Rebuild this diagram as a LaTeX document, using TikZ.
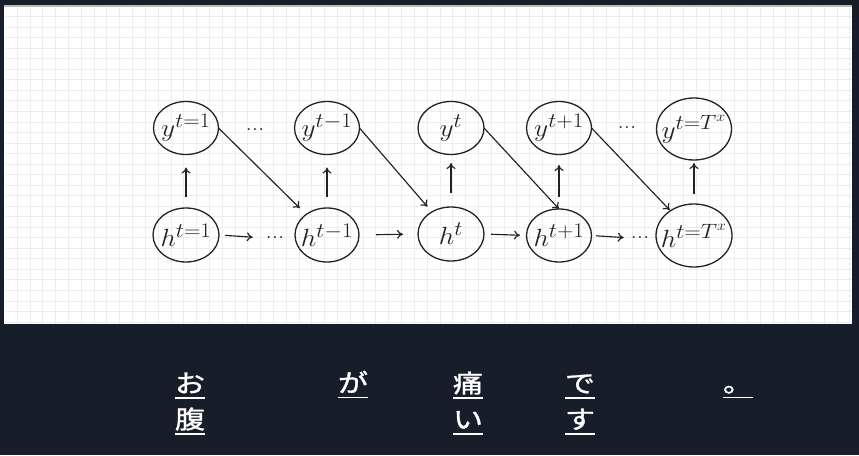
\documentclass[tikz,border=0pt]{standalone}
\usepackage{fontspec}
\usepackage{graphicx}
\usepackage{calc}
\usetikzlibrary{shapes.geometric,arrows.meta}
\newfontfamily\jpfont[FakeBold=1.2]{Noto Sans CJK JP}
\definecolor{bgdark}{RGB}{24,30,41}
\definecolor{gridc}{RGB}{237,237,237}
\definecolor{inkc}{RGB}{34,34,34}
\newcommand\xw[1]{\scalebox{1.1}[1]{#1}}
\newcommand\jw[1]{\scalebox{1.2}[1]{#1}}
\newcommand\ctr[1]{\makebox[0pt]{\raisebox{-0.5\height+0.5\depth}[0pt][0pt]{#1}}}
\begin{document}
\begin{tikzpicture}[x=1pt,y=-1pt,
  st/.style={ellipse, draw=inkc, line width=1.3pt, inner sep=0pt, outer sep=0pt,
    minimum width=65pt, minimum height=53pt, text=inkc, font=\fontsize{28.5}{32}\selectfont},
  bigst/.style={st, minimum width=76pt, minimum height=63pt},
  dts/.style={inner sep=0pt, outer sep=0pt, text=inkc, font=\fontsize{23}{26}\selectfont},
  arr/.style={draw=inkc, line width=1.15pt, -{To[length=6pt,width=9pt]}},
  jp/.style={inner sep=0pt, outer sep=0pt, anchor=base, text=white, font=\jpfont\fontsize{25}{30}\selectfont},
  ul/.style={draw=white, line width=1.7pt}]
\useasboundingbox (0,0) rectangle (859,455);
% background and panel
\fill[bgdark] (0,0) rectangle (859,455);
\fill[white] (4,6) rectangle (852,324);
\foreach \k in {0,...,65} \draw[gridc, line width=1pt] ({17.3+\k*12.81},6.5) -- ({17.3+\k*12.81},323.5);
\foreach \k in {0,...,29} \draw[gridc, line width=1pt] (4.5,{16.7+\k*10.53}) -- (851.5,{16.7+\k*10.53});
\draw[gray!55, line width=1.6pt] (4,6) -- (852,6);
% nodes
\node[st] (y1) at (186,128) {\ctr{\xw{$y^{t=1}$}}};
\node[st, minimum width=66pt, minimum height=54pt] (h1) at (186,235) {\ctr{\xw{$h^{t=1}$}}};
\node[st] (ym) at (327,128) {\ctr{\xw{$y^{t-1}$}}};
\node[st, minimum width=64pt, minimum height=54pt] (hm) at (327,235) {\ctr{\xw{$h^{t-1}$}}};
\node[st, minimum width=66pt] (yt) at (451,128) {\ctr{\xw{$y^{t}$}}};
\node[st, minimum width=66pt, minimum height=54pt] (ht) at (451,234) {\ctr{\xw{$h^{t}$}}};
\node[st] (yp) at (559,128) {\ctr{\xw{$y^{t+1}$}}};
\node[st] (hp) at (559,235.5) {\ctr{\xw{$h^{t+1}$}}};
\node[bigst, minimum width=75pt, minimum height=62pt] (yT) at (694,129) {\ctr{\xw{$y^{t=T^x}$}}};
\node[bigst] (hT) at (694,235.5) {\ctr{\xw{$h^{t=T^x}$}}};
% dots
\node[dts] (d1) at (255,130) {\xw{...}};
\node[dts] (d2) at (275,238) {\xw{...}};
\node[dts] (d3) at (627,128) {\xw{...}};
\node[dts] (d4) at (640,238) {\xw{...}};
% vertical arrows
\draw[arr, shorten <=11pt, shorten >=13pt] (h1) -- (y1);
\draw[arr, shorten <=11pt, shorten >=13pt] (hm) -- (ym);
\draw[arr, shorten <=14pt, shorten >=8.5pt] (ht) -- (yt);
\draw[arr, shorten <=12pt, shorten >=10.5pt] (hp) -- (yp);
\draw[arr, shorten <=10pt, shorten >=3pt] (hT) -- (yT);
% horizontal arrows
\draw[arr, shorten <=6pt, shorten >=12.75pt] (h1.east) -- (d2.west);
\draw[arr, shorten <=17pt, shorten >=15pt] (hm.east) -- (ht.west);
\draw[arr, shorten <=7pt, shorten >=6.5pt] (ht.east) -- (hp.west);
\draw[arr, shorten <=4.5pt, shorten >=6.75pt] (hp.east) -- (d4.west);
% diagonal arrows
\draw[arr, shorten >=9pt] (y1.east) -- (hm);
\draw[arr, shorten >=7pt] (ym.east) -- (ht);
\draw[arr] (yt.east) -- (hp.north);
\draw[arr, shorten >=1pt] (yp.east) -- (hT);
% Japanese text
\node[jp] (o) at (190,392.5) {\jw{お}};
\node[jp] (fuku) at (190,428.5) {\jw{腹}};
\node[jp] (ga) at (353,392) {\jw{が}};
\node[jp] (ita) at (468,392.5) {\jw{痛}};
\node[jp] (ii) at (468,428.5) {\jw{い}};
\node[jp] (de) at (580,392.5) {\jw{で}};
\node[jp] (su) at (580,428.5) {\jw{す}};
\node[jp] (maru) at (738,392) {\jw{。}};
\foreach \n in {o,fuku,ga,ita,ii,de,su,maru}
  \draw[ul] ([yshift=-5.5pt]\n.base west) -- ([yshift=-5.5pt]\n.base east);
\end{tikzpicture}
\end{document}
